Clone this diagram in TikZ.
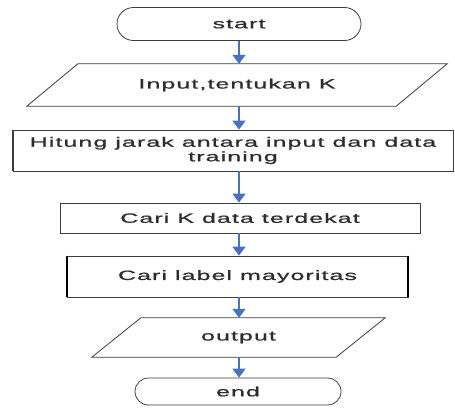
\documentclass[tikz,border=0pt]{standalone}
\usepackage{fontspec}
\setmainfont{Liberation Sans}[FakeStretch=1.85,LetterSpace=8,FakeBold=1]
\usepackage{xcolor}
\usetikzlibrary{arrows.meta,shapes.misc}
\definecolor{arrowblue}{RGB}{68,114,196}
\definecolor{linegray}{RGB}{60,60,60}
\definecolor{textgray}{RGB}{45,45,45}

\begin{document}
\begin{tikzpicture}[x=1pt,y=-1pt,font=\fontsize{13.5}{14.5}\selectfont,text=textgray]
                \tikzstyle{terminal}=[rounded rectangle,draw=linegray,line width=0.8pt,inner sep=0]
                \tikzstyle{io}=[rectangle,inner sep=0]
                \tikzstyle{io line}=[draw=linegray,line width=0.8pt]
                \tikzstyle{process}=[rectangle,draw=linegray,line width=0.8pt,inner sep=0,align=center]
                \tikzstyle{flow}=[arrowblue,line width=1.5pt,-{Triangle[width=13pt,length=9pt]}]
                \useasboundingbox (0,0) rectangle (455,407);
                \node(start)[terminal,minimum width=244,minimum height=33] at (239,24){start};
                \node(input)[io,minimum width=369,minimum height=42] at (237,85){Input,tentukan K};
                \node(hitung)[process,minimum width=440,minimum height=41] at (233,150.5){Hitung jarak antara input dan data\\training};
                \node(carik)[process,minimum width=360,minimum height=30] at (240,218){Cari K data terdekat};
                \node(label)[process,minimum width=341,minimum height=41] at (237.5,276.5){Cari label mayoritas};
                \node(output)[io,minimum width=244,minimum height=39] at (238.5,337.5){output};
                \node(end)[terminal,minimum width=206,minimum height=27] at (238,391.5){end};
                % heavy sides of the label box
                \draw[black,line width=2pt] (label.north west) -- (label.south west);
                \draw[black,line width=2pt] (label.north east) -- (label.south east);
                \draw[linegray,line width=1.6pt] (hitung.north west) -- (hitung.south west);
                % parallelogram outlines
                \draw[io line] ([xshift=25.5]input.north west) -- ([xshift=25.5]input.north east)
                        -- ([xshift=-25.5]input.south east) -- ([xshift=-25.5]input.south west) -- cycle;
                \draw[io line] ([xshift=24.5]output.north west) -- ([xshift=24.5]output.north east)
                        -- ([xshift=-24.5]output.south east) -- ([xshift=-24.5]output.south west) -- cycle;
                \draw[flow] (start.south) -- (start.south |- input.north);
                \draw[flow] (input.south -| start.south) -- (start.south |- hitung.north);
                \draw[flow] (hitung.south -| start.south) -- (start.south |- carik.north);
                \draw[flow] (carik.south -| start.south) -- (start.south |- label.north);
                \draw[flow] (label.south -| start.south) -- (start.south |- output.north);
                \draw[flow] (output.south -| start.south) -- (start.south |- end.north);
            \end{tikzpicture}
\end{document}
